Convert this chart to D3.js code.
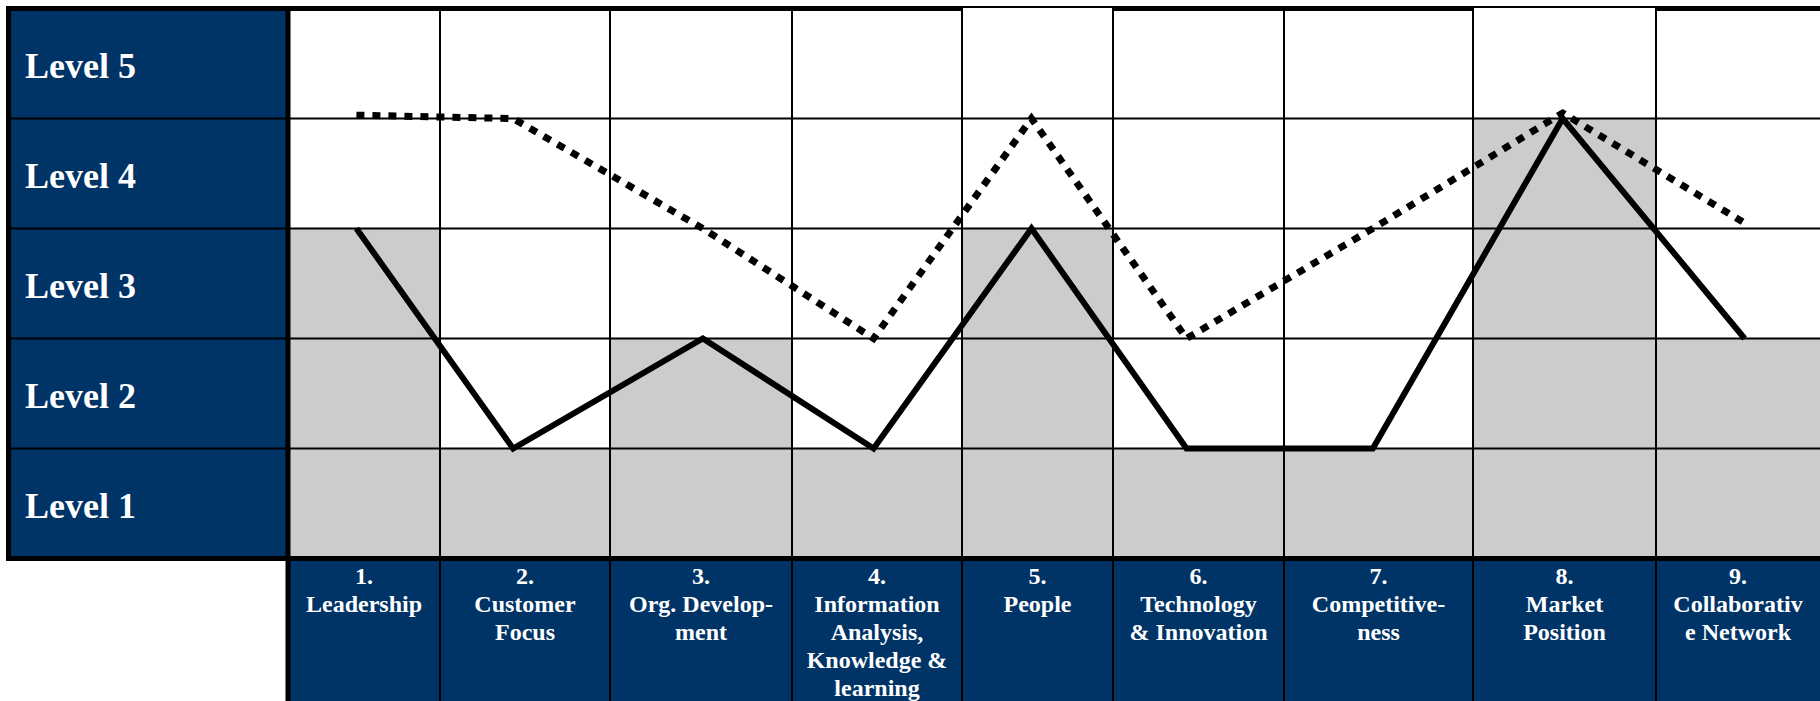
<!DOCTYPE html>
<html>
<head>
<meta charset="utf-8">
<script src="https://cdn.jsdelivr.net/npm/d3@7"></script>
<style>
  html, body { margin: 0; padding: 0; background: #fff; }
  svg { display: block; }
  text { font-family: "Liberation Serif", "Times New Roman", serif; font-weight: bold; fill: #fff; }
</style>
</head>
<body>
<svg id="chart" width="1820" height="701"></svg>
<script>
// Capability dimensions (columns) with their header lines
const categories = [
  "Leadership", "Customer Focus", "Org. Development",
  "Information Analysis, Knowledge & learning", "People",
  "Technology & Innovation", "Competitiveness", "Market Position",
  "Collaborative Network"
];
const categoryLabelLines = [
  ["1.", "Leadership"],
  ["2.", "Customer", "Focus"],
  ["3.", "Org. Develop-", "ment"],
  ["4.", "Information", "Analysis,", "Knowledge &", "learning"],
  ["5.", "People"],
  ["6.", "Technology", "& Innovation"],
  ["7.", "Competitive-", "ness"],
  ["8.", "Market", "Position"],
  ["9.", "Collaborativ", "e Network"]
];
// Maturity levels (rows, bottom to top)
const levels = ["Level 1", "Level 2", "Level 3", "Level 4", "Level 5"];
// Current maturity (solid line + shaded cells)
const currentLevel = [3, 1, 2, 1, 3, 1, 1, 4, 2];
// Target maturity (dotted line)
const targetLevel = [4.03, 4, 3, 2, 4, 2, 3, 4.05, 3.05];

// ---- layout ----
const W = 1820, H = 701;
const gridLeft = 288, gridTop = 8.5, gridBottom = 558.5;
const labelLeft = 11;
const colWidths = [152, 170, 182, 170, 151, 171, 189, 183, 164];
// where each column's point sits across the column width
const colAnchor = [0.45, 0.43, 0.51, 0.48, 0.46, 0.43, 0.47, 0.49, 0.54];
const thinTopCols = new Set([4, 7]); // columns whose top edge has a thin rule
const navy = "#003366", shade = "#cccccc";

const edges = [gridLeft, ...d3.cumsum(colWidths).map(d => gridLeft + d)];
const colLeft = d3.scaleOrdinal(categories, edges.slice(0, -1));
const colWidth = d3.scaleOrdinal(categories, colWidths);
const colPos = d3.scaleOrdinal(categories, colAnchor);
const xPoint = c => colLeft(c) + colWidth(c) * colPos(c);
const y = d3.scaleLinear().domain([0, levels.length]).range([gridBottom, gridTop]);

const svg = d3.select("#chart");
svg.append("rect").attr("width", W).attr("height", H).attr("fill", "#fff");

// shaded cells: levels reached by each dimension
const cells = categories.flatMap((c, i) =>
  d3.range(1, Math.round(currentLevel[i]) + 1).map(l => ({ c, l })));
svg.append("g").selectAll("rect").data(cells).join("rect")
  .attr("x", d => colLeft(d.c))
  .attr("y", d => y(d.l))
  .attr("width", d => colWidth(d.c))
  .attr("height", d => y(d.l - 1) - y(d.l))
  .attr("fill", shade);

// row header column
svg.append("rect")
  .attr("x", labelLeft).attr("y", gridTop)
  .attr("width", gridLeft - labelLeft).attr("height", gridBottom - gridTop)
  .attr("fill", navy);

// column header strip
svg.append("rect")
  .attr("x", gridLeft).attr("y", gridBottom)
  .attr("width", W - gridLeft).attr("height", H - gridBottom)
  .attr("fill", navy);

// horizontal rules between levels
svg.append("g").selectAll("line").data(d3.range(1, levels.length)).join("line")
  .attr("x1", labelLeft).attr("x2", W)
  .attr("y1", d => y(d)).attr("y2", d => y(d))
  .attr("stroke", "#000").attr("stroke-width", 2);

// vertical rules between dimensions
svg.append("g").selectAll("line").data(edges.slice(1, -1)).join("line")
  .attr("x1", d => d).attr("x2", d => d)
  .attr("y1", 6).attr("y2", H)
  .attr("stroke", "#000").attr("stroke-width", 2);

// outer frame
const frame = svg.append("g").attr("stroke", "#000").attr("fill", "none");
frame.append("line").attr("x1", 6).attr("x2", gridLeft).attr("y1", gridTop).attr("y2", gridTop).attr("stroke-width", 5);
categories.forEach((c, i) => {
  const thin = thinTopCols.has(i);
  frame.append("line")
    .attr("x1", colLeft(c)).attr("x2", colLeft(c) + colWidth(c))
    .attr("y1", thin ? 7 : gridTop).attr("y2", thin ? 7 : gridTop)
    .attr("stroke-width", thin ? 2 : 5);
});
frame.append("line").attr("x1", 8.5).attr("x2", 8.5).attr("y1", 6).attr("y2", gridBottom + 2.5).attr("stroke-width", 5);
frame.append("line").attr("x1", 6).attr("x2", W).attr("y1", gridBottom).attr("y2", gridBottom).attr("stroke-width", 5);
frame.append("line").attr("x1", gridLeft).attr("x2", gridLeft).attr("y1", 6).attr("y2", H).attr("stroke-width", 5);

// level labels
svg.append("g").selectAll("text").data(levels).join("text")
  .attr("x", 25)
  .attr("y", (d, i) => (y(i) + y(i + 1)) / 2 + 14.5)
  .attr("font-size", 36)
  .text(d => d);

// dimension labels
const hdr = svg.append("g").selectAll("text").data(categories).join("text")
  .attr("font-size", 24)
  .attr("text-anchor", "middle");
hdr.selectAll("tspan").data((c, i) => categoryLabelLines[i].map(t => ({ t, c })))
  .join("tspan")
  .attr("x", d => colLeft(d.c) + colWidth(d.c) / 2)
  .attr("y", (d, j) => 584 + j * 28)
  .text(d => d.t);

// maturity lines
const line = d3.line().x(d => xPoint(d.c)).y(d => y(d.v));
svg.append("path")
  .datum(categories.map((c, i) => ({ c, v: targetLevel[i] })))
  .attr("d", line)
  .attr("fill", "none").attr("stroke", "#000")
  .attr("stroke-width", 7).attr("stroke-dasharray", "8 8");
svg.append("path")
  .datum(categories.map((c, i) => ({ c, v: currentLevel[i] })))
  .attr("d", line)
  .attr("fill", "none").attr("stroke", "#000")
  .attr("stroke-width", 6).attr("stroke-linejoin", "miter");
</script>
</body>
</html>
